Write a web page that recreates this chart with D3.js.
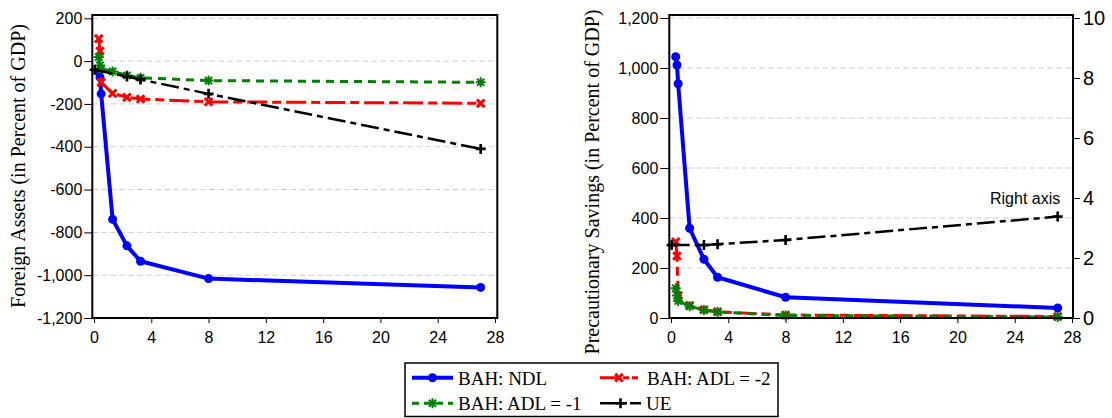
<!DOCTYPE html>
<html><head><meta charset="utf-8">
<script src="https://cdn.jsdelivr.net/npm/d3@7"></script>
<style>body{margin:0;background:#fff}svg{display:block}</style>
</head><body>
<svg id="c" width="1112" height="418"></svg>
<script>
// ---- data ----
const xBAH = [0.33, 0.42, 0.5, 1.3, 2.3, 3.25, 8, 27];
const xUE = [0.05, 2.3, 3.25, 8, 27];
const faNDL = [-50, -75, -153, -739, -863, -935, -1016, -1057];
const faADL2 = [105, 47, -99, -151, -169, -177, -190, -197];
const faADL1 = [19, -20, -36, -48, -67, -78, -91, -99];
const faUE = [-40, -72, -86, -153, -410];
const psNDL = [1045, 1012, 937, 359, 235, 163, 83, 40];
const psADL2 = [305, 248, 90, 50, 33, 25, 12, 6];
const psADL1 = [119, 90, 68, 47, 32, 24, 10, 4];
const psUE = [2.43, 2.43, 2.46, 2.6, 3.38]; // right axis
const xTicks = [0, 4, 8, 12, 16, 20, 24, 28];
const faTicks = [200, 0, -200, -400, -600, -800, -1000, -1200];
const psTicks = [0, 200, 400, 600, 800, 1000, 1200];
const psRTicks = [0, 2, 4, 6, 8, 10];
const seriesNames = ["BAH: NDL", "BAH: ADL = -2", "BAH: ADL = -1", "UE"];

const svg = d3.select("#c");
const fmt = d3.formatLocale({decimal: ".", thousands: ",", grouping: [3], currency: ["$", ""], minus: "-"}).format(",");
const SANS = "'Liberation Sans', Arial, sans-serif";
const SERIF = "'Liberation Serif', 'Times New Roman', serif";

const styles = [
  {color: "#0000ff", w: 4, dash: null, marker: "circle"},
  {color: "#ff0000", w: 3, dash: "20,5,9,5", marker: "x"},
  {color: "#008000", w: 3, dash: "8,6", marker: "star"},
  {color: "#000000", w: 2.5, dash: "18,5,6,5", marker: "plus"}
];

function drawMarker(g, type, x, y, color) {
  if (type === "circle") {
    g.append("circle").attr("cx", x).attr("cy", y).attr("r", 4.5).attr("fill", color);
  } else if (type === "x") {
    const s = 3.8;
    g.append("path").attr("d", `M${x-s},${y-s}L${x+s},${y+s}M${x-s},${y+s}L${x+s},${y-s}`)
      .attr("stroke", color).attr("stroke-width", 3).attr("fill", "none");
  } else if (type === "star") {
    const s = 5, d = 3.6;
    g.append("path").attr("d", `M${x-s},${y}L${x+s},${y}M${x},${y-s}L${x},${y+s}M${x-d},${y-d}L${x+d},${y+d}M${x-d},${y+d}L${x+d},${y-d}`)
      .attr("stroke", color).attr("stroke-width", 2).attr("fill", "none");
    g.append("circle").attr("cx", x).attr("cy", y).attr("r", 2.2).attr("fill", color);
  } else if (type === "plus") {
    const s = 5;
    g.append("path").attr("d", `M${x-s},${y}L${x+s},${y}M${x},${y-s}L${x},${y+s}`)
      .attr("stroke", color).attr("stroke-width", 2.6).attr("fill", "none");
  }
}

function drawSeries(g, xs, ys, xS, yS, st) {
  const line = d3.line().x(d => xS(d[0])).y(d => yS(d[1]));
  const pts = xs.map((x, i) => [x, ys[i]]);
  const p = g.append("path").datum(pts).attr("d", line).attr("fill", "none")
    .attr("stroke", st.color).attr("stroke-width", st.w).attr("stroke-linejoin", "round");
  if (st.dash) p.attr("stroke-dasharray", st.dash);
  pts.forEach(d => drawMarker(g, st.marker, xS(d[0]), yS(d[1]), st.color));
}

function grid(g, ticks, yS, x0, x1) {
  ticks.forEach(t => {
    g.append("line").attr("x1", x0).attr("x2", x1).attr("y1", yS(t)).attr("y2", yS(t))
      .attr("stroke", "#cfcfcf").attr("stroke-width", 1).attr("stroke-dasharray", "6,3");
  });
}

function styleAxis(a, size) {
  a.select(".domain").remove();
  a.selectAll(".tick line").attr("stroke", "#000").attr("stroke-width", 1);
  a.selectAll(".tick text").attr("font-family", SANS).attr("font-size", size).attr("fill", "#000");
}

// ---------- LEFT PANEL ----------
const L = {fx0: 92.3, fx1: 497.3, fy0: 15, fy1: 318};
const xL = d3.scaleLinear().domain([0, 28]).range([94, 495]);
const yL = d3.scaleLinear().domain([-1200, 200]).range([318, 18.3]);
const gL = svg.append("g");
grid(gL, faTicks, yL, L.fx0, L.fx1);
const axL = gL.append("g").attr("transform", `translate(${L.fx0},0)`)
  .call(d3.axisLeft(yL).tickValues(faTicks).tickSize(8).tickPadding(2).tickFormat(fmt));
styleAxis(axL, "16px");
const axLB = gL.append("g").attr("transform", `translate(0,${L.fy1})`)
  .call(d3.axisBottom(xL).tickValues(xTicks).tickSize(5).tickPadding(9).tickFormat(d3.format("d")));
styleAxis(axLB, "16px");
drawSeries(gL, xBAH, faNDL, xL, yL, styles[0]);
drawSeries(gL, xBAH, faADL2, xL, yL, styles[1]);
drawSeries(gL, xBAH, faADL1, xL, yL, styles[2]);
drawSeries(gL, xUE, faUE, xL, yL, styles[3]);
gL.append("rect").attr("x", L.fx0).attr("y", L.fy0).attr("width", L.fx1 - L.fx0).attr("height", L.fy1 - L.fy0)
  .attr("fill", "none").attr("stroke", "#000").attr("stroke-width", 2);
gL.append("text").attr("transform", "translate(25,166) rotate(-90)").attr("text-anchor", "middle")
  .attr("font-family", SERIF).attr("font-size", "20px").text("Foreign Assets (in Percent of GDP)");

// ---------- RIGHT PANEL ----------
const R = {fx0: 669.3, fx1: 1073, fy0: 15, fy1: 318};
const xR = d3.scaleLinear().domain([0, 28]).range([671, 1072]);
const yR = d3.scaleLinear().domain([0, 1200]).range([318, 18]);
const yR2 = d3.scaleLinear().domain([0, 10]).range([318, 18]);
const gR = svg.append("g");
grid(gR, psTicks, yR, R.fx0, R.fx1);
const axR = gR.append("g").attr("transform", `translate(${R.fx0},0)`)
  .call(d3.axisLeft(yR).tickValues(psTicks).tickSize(9).tickPadding(2).tickFormat(fmt));
styleAxis(axR, "16px");
const axR2 = gR.append("g").attr("transform", `translate(${R.fx1},0)`)
  .call(d3.axisRight(yR2).tickValues(psRTicks).tickSize(7).tickPadding(3).tickFormat(d3.format("d")));
styleAxis(axR2, "20px");
const axRB = gR.append("g").attr("transform", `translate(0,${R.fy1})`)
  .call(d3.axisBottom(xR).tickValues(xTicks).tickSize(5).tickPadding(9).tickFormat(d3.format("d")));
styleAxis(axRB, "16px");
drawSeries(gR, xBAH, psNDL, xR, yR, styles[0]);
drawSeries(gR, xBAH, psADL2, xR, yR, styles[1]);
drawSeries(gR, xBAH, psADL1, xR, yR, styles[2]);
drawSeries(gR, xUE, psUE, xR, yR2, styles[3]);
gR.append("rect").attr("x", R.fx0).attr("y", R.fy0).attr("width", R.fx1 - R.fx0).attr("height", R.fy1 - R.fy0)
  .attr("fill", "none").attr("stroke", "#000").attr("stroke-width", 2);
gR.append("text").attr("transform", "translate(599,182) rotate(-90)").attr("text-anchor", "middle")
  .attr("font-family", SERIF).attr("font-size", "20px").text("Precautionary Savings (in Percent of GDP)");
gR.append("text").attr("x", 990).attr("y", 204).attr("font-family", SANS).attr("font-size", "16px").text("Right axis");

// ---------- LEGEND ----------
const gLeg = svg.append("g");
gLeg.append("rect").attr("x", 405).attr("y", 363).attr("width", 373).attr("height", 53.5)
  .attr("fill", "#fff").attr("stroke", "#000").attr("stroke-width", 1.5);
const legPos = [
  {x0: 412, x1: 453, tx: 458, y: 377.7, ty: 385},
  {x0: 600, x1: 638, tx: 647, y: 377.7, ty: 385},
  {x0: 412, x1: 453, tx: 458, y: 403.3, ty: 410},
  {x0: 600, x1: 641, tx: 646, y: 403.3, ty: 410}
];
legPos.forEach((p, i) => {
  const st = styles[i];
  const ln = gLeg.append("line").attr("x1", p.x0).attr("x2", p.x1).attr("y1", p.y).attr("y2", p.y)
    .attr("stroke", st.color).attr("stroke-width", st.w);
  if (st.dash) ln.attr("stroke-dasharray", i === 1 ? "20,3,6,3" : (i === 2 ? "7,5" : "18,3,6,3"));
  drawMarker(gLeg, st.marker, (p.x0 + p.x1) / 2, p.y, st.color);
  gLeg.append("text").attr("x", p.tx).attr("y", p.ty).attr("font-family", SERIF).attr("font-size", "19px")
    .text(seriesNames[i]);
});
</script>
</body></html>
